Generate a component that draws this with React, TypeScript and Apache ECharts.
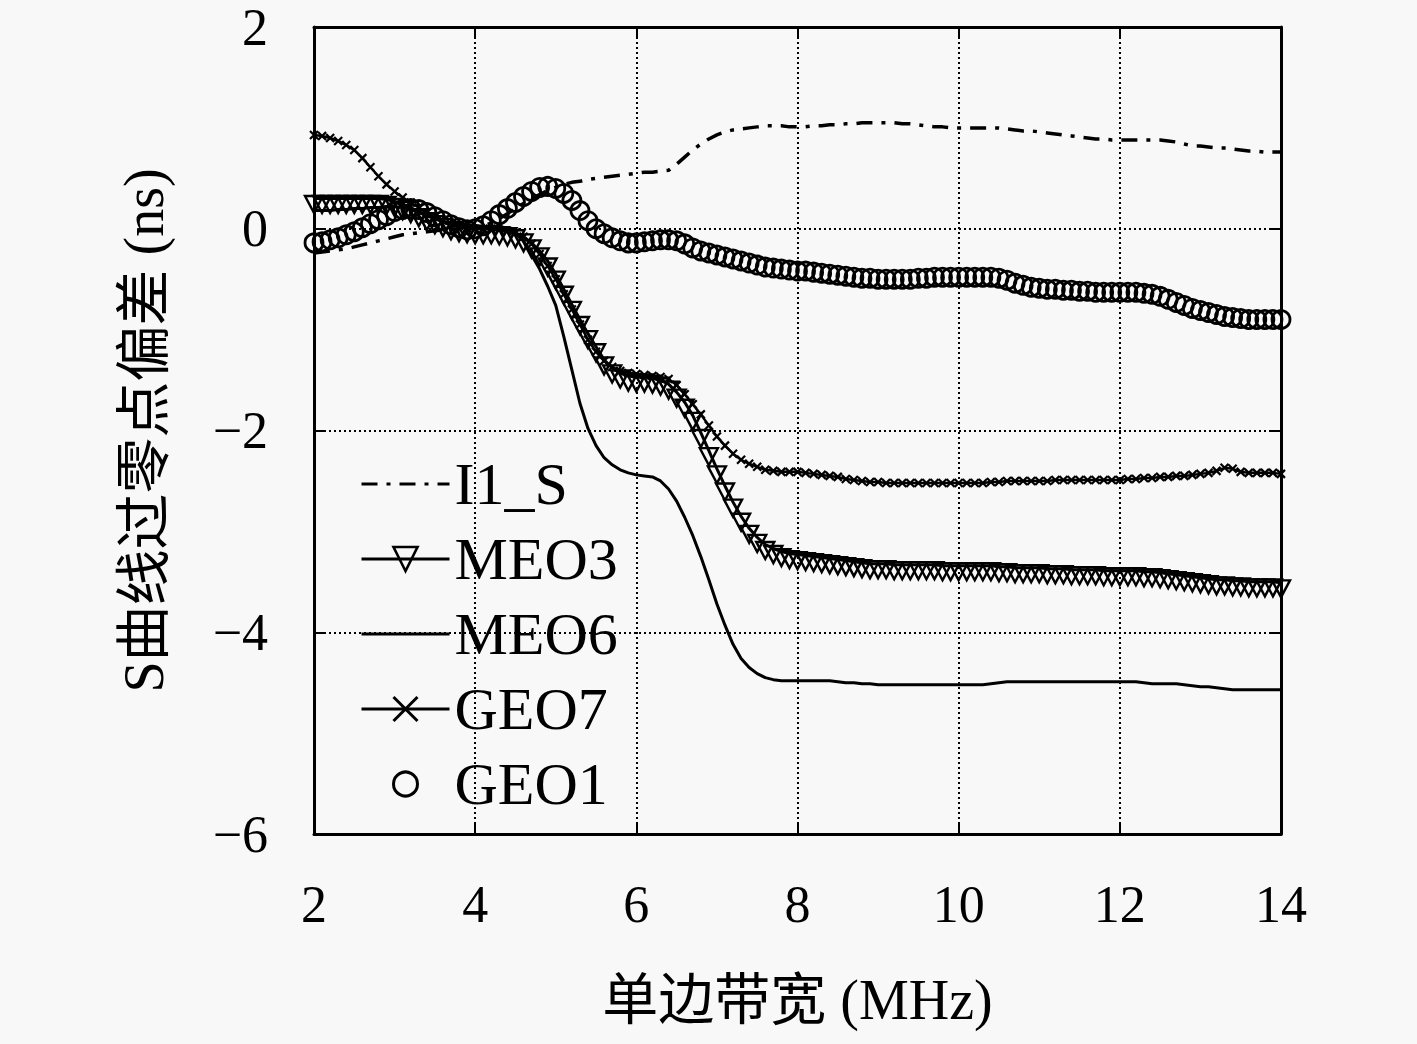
import React, { useEffect, useRef } from "react";
import * as echarts from "echarts";

// x sampling grid (MHz), 2.0 .. 14.0 in 0.1 steps
const bandwidth: number[] = Array.from({ length: 121 }, (_, i) => +(2 + i * 0.1).toFixed(1));

const xTicks = { min: 2, max: 14, interval: 2 };
const yTicks = { min: -6, max: 2, interval: 2 };

const seriesNames = ["I1_S", "MEO3", "MEO6", "GEO7", "GEO1"];

const i1s: number[] = [
  -0.24, -0.23, -0.22, -0.21, -0.2, -0.18, -0.16, -0.14, -0.12, -0.1,
  -0.08, -0.06, -0.05, -0.04, -0.03, -0.02, -0.01, -0.01, 0.0, 0.0,
  0.0, 0.02, 0.06, 0.1, 0.15, 0.2, 0.25, 0.3, 0.34, 0.38,
  0.41, 0.44, 0.46, 0.47, 0.49, 0.5, 0.51, 0.52, 0.53, 0.54,
  0.55, 0.56, 0.56, 0.57, 0.58, 0.64, 0.71, 0.78, 0.84, 0.89,
  0.93, 0.96, 0.98, 0.99, 1.0, 1.01, 1.02, 1.02, 1.02, 1.01,
  1.01, 1.01, 1.02, 1.02, 1.03, 1.03, 1.04, 1.04, 1.05, 1.05,
  1.05, 1.05, 1.05, 1.04, 1.04, 1.03, 1.02, 1.01, 1.01, 1.0,
  1.0, 1.0, 1.0, 1.0, 1.0, 1.0, 0.99, 0.98, 0.97, 0.97,
  0.96, 0.95, 0.94, 0.93, 0.92, 0.91, 0.9, 0.89, 0.89, 0.88,
  0.88, 0.88, 0.88, 0.88, 0.88, 0.88, 0.87, 0.86, 0.84, 0.82,
  0.82, 0.81, 0.8, 0.8, 0.79, 0.78, 0.77, 0.77, 0.76, 0.76,
  0.76,
];

const meo3: number[] = [
  0.3, 0.3, 0.3, 0.3, 0.3, 0.3, 0.3, 0.3, 0.3, 0.29,
  0.27, 0.24, 0.21, 0.17, 0.13, 0.1, 0.07, 0.04, 0.02, 0.01,
  0.0, 0.0, 0.0, -0.01, -0.02, -0.04, -0.08, -0.14, -0.22, -0.32,
  -0.45, -0.6, -0.75, -0.9, -1.04, -1.17, -1.3, -1.38, -1.43, -1.46,
  -1.47, -1.47, -1.48, -1.5, -1.54, -1.62, -1.72, -1.85, -2.02, -2.2,
  -2.38, -2.55, -2.71, -2.85, -2.97, -3.06, -3.13, -3.17, -3.2, -3.22,
  -3.23, -3.24, -3.25, -3.26, -3.27, -3.28, -3.29, -3.3, -3.31, -3.32,
  -3.32, -3.32, -3.33, -3.33, -3.33, -3.33, -3.33, -3.33, -3.34, -3.34,
  -3.34, -3.34, -3.34, -3.34, -3.34, -3.35, -3.35, -3.36, -3.36, -3.36,
  -3.36, -3.37, -3.37, -3.37, -3.38, -3.38, -3.38, -3.38, -3.39, -3.39,
  -3.39, -3.39, -3.39, -3.4, -3.4, -3.41, -3.42, -3.43, -3.44, -3.45,
  -3.46, -3.47, -3.48, -3.48, -3.49, -3.49, -3.5, -3.5, -3.5, -3.5,
  -3.51,
];

const meo6: number[] = [
  0.18, 0.18, 0.18, 0.19, 0.19, 0.2, 0.2, 0.21, 0.21, 0.22,
  0.22, 0.21, 0.19, 0.16, 0.13, 0.1, 0.07, 0.04, 0.02, 0.01,
  0.0, 0.0, 0.0, -0.01, -0.03, -0.05, -0.12, -0.26, -0.4, -0.57,
  -0.76, -1.07, -1.4, -1.73, -1.98, -2.15, -2.27, -2.34, -2.39, -2.42,
  -2.44, -2.45, -2.46, -2.5, -2.58, -2.7, -2.86, -3.04, -3.25, -3.48,
  -3.72, -3.93, -4.12, -4.26, -4.35, -4.41, -4.45, -4.47, -4.48, -4.48,
  -4.48, -4.48, -4.48, -4.48, -4.48, -4.49, -4.5, -4.5, -4.51, -4.51,
  -4.52, -4.52, -4.52, -4.52, -4.52, -4.52, -4.52, -4.52, -4.52, -4.52,
  -4.52, -4.52, -4.52, -4.52, -4.51, -4.5, -4.49, -4.49, -4.49, -4.49,
  -4.49, -4.49, -4.49, -4.49, -4.49, -4.49, -4.49, -4.49, -4.49, -4.49,
  -4.49, -4.49, -4.49, -4.5, -4.51, -4.51, -4.51, -4.51, -4.52, -4.53,
  -4.54, -4.54, -4.55, -4.56, -4.57, -4.57, -4.57, -4.57, -4.57, -4.57,
  -4.57,
];

const geo7: number[] = [
  0.93, 0.92, 0.9, 0.87, 0.83, 0.78, 0.7, 0.61, 0.52, 0.44,
  0.37, 0.31, 0.26, 0.21, 0.16, 0.12, 0.08, 0.05, 0.03, 0.01,
  0.0, 0.0, 0.0, -0.01, -0.02, -0.04, -0.08, -0.15, -0.25, -0.37,
  -0.5, -0.65, -0.8, -0.95, -1.1, -1.22, -1.31, -1.37, -1.41, -1.43,
  -1.44, -1.45, -1.46, -1.47, -1.49, -1.55, -1.64, -1.74, -1.84, -1.95,
  -2.06, -2.15, -2.23, -2.29, -2.33, -2.36, -2.39, -2.4, -2.41, -2.41,
  -2.41, -2.42, -2.43, -2.44, -2.45, -2.46, -2.48, -2.49, -2.5, -2.51,
  -2.51, -2.52, -2.52, -2.52, -2.52, -2.52, -2.52, -2.52, -2.52, -2.52,
  -2.52, -2.52, -2.52, -2.52, -2.51, -2.51, -2.5, -2.5, -2.5, -2.5,
  -2.5, -2.5, -2.49, -2.49, -2.49, -2.49, -2.49, -2.49, -2.49, -2.49,
  -2.49, -2.48, -2.48, -2.47, -2.47, -2.46, -2.46, -2.45, -2.45, -2.44,
  -2.43, -2.42, -2.4, -2.37, -2.38, -2.41, -2.42, -2.42, -2.42, -2.42,
  -2.43,
];

const geo1: number[] = [
  -0.14, -0.13, -0.11, -0.09, -0.06, -0.03, 0.01, 0.05, 0.09, 0.13,
  0.17, 0.19, 0.2, 0.19, 0.16, 0.12, 0.08, 0.04, 0.01, -0.01,
  0.0, 0.03, 0.08, 0.14, 0.2, 0.26, 0.32, 0.37, 0.41, 0.42,
  0.4, 0.35, 0.28, 0.18, 0.08, 0.0, -0.05, -0.09, -0.12, -0.14,
  -0.14, -0.13, -0.12, -0.11, -0.11, -0.12, -0.15, -0.19, -0.22, -0.24,
  -0.26, -0.28, -0.3, -0.32, -0.34, -0.36, -0.38, -0.39, -0.4, -0.41,
  -0.42, -0.42, -0.43, -0.44, -0.45, -0.46, -0.47, -0.48, -0.49, -0.49,
  -0.5, -0.5, -0.5, -0.5, -0.5, -0.49, -0.49, -0.48, -0.48, -0.48,
  -0.48, -0.48, -0.48, -0.48, -0.48, -0.49, -0.51, -0.54, -0.56, -0.58,
  -0.59, -0.6, -0.6, -0.61, -0.61, -0.62, -0.62, -0.63, -0.63, -0.63,
  -0.63, -0.63, -0.63, -0.64, -0.65, -0.67, -0.7, -0.73, -0.76, -0.79,
  -0.81, -0.83, -0.85, -0.87, -0.88, -0.89, -0.9, -0.9, -0.9, -0.9,
  -0.9,
];

const pairs = (ys: number[]) => bandwidth.map((x, i) => [x, ys[i]]);

const SERIF = "'Liberation Serif', 'Noto Sans CJK SC', serif";
const INK = "#000";
const DASHDOT = [16, 9, 4, 9];

export default function App() {
  const ref = useRef<HTMLDivElement>(null);

  useEffect(() => {
    if (!ref.current) return;
    const chart = echarts.init(ref.current, null, { renderer: "svg" });
    const minus = (v: number) => (v < 0 ? "\u2212" + Math.abs(v) : String(v));
    const hiddenAxisCommon = {
      axisLabel: { show: false },
      splitLine: { show: false },
      axisLine: { show: true, onZero: false, lineStyle: { color: INK, width: 3 } },
      axisTick: { show: true, inside: true, length: 10, lineStyle: { color: INK, width: 2 } },
    };
    const grid = { show: true, lineStyle: { color: INK, width: 2, type: [2, 3] } };
    chart.setOption({
      animation: false,
      backgroundColor: "#f8f8f8",
      grid: { left: 314, right: 136, top: 27, bottom: 210, containLabel: false },
      legend: {
        orient: "vertical",
        left: 355,
        top: 449,
        itemWidth: 88,
        itemHeight: 30,
        itemGap: 15,
        lineStyle: { width: 3 },
        itemStyle: { borderWidth: 2.6 },
        textStyle: { fontFamily: SERIF, fontSize: 60, color: INK },
        data: [
          { name: "I1_S", itemStyle: { opacity: 0 }, lineStyle: { width: 3, type: DASHDOT } },
          { name: "MEO3", lineStyle: { width: 3 } },
          { name: "MEO6", itemStyle: { opacity: 0 }, lineStyle: { width: 3 } },
          { name: "GEO7", lineStyle: { width: 3 }, itemStyle: { borderWidth: 3 } },
          { name: "GEO1", lineStyle: { width: 0, opacity: 0 }, itemStyle: { borderWidth: 3 } },
        ],
      },
      xAxis: [
        {
          type: "value",
          min: xTicks.min,
          max: xTicks.max,
          interval: xTicks.interval,
          name: "单边带宽 (MHz)",
          nameLocation: "middle",
          nameGap: 138,
          nameTextStyle: { fontFamily: SERIF, fontSize: 56, color: INK },
          axisLine: { show: true, onZero: false, lineStyle: { color: INK, width: 3 } },
          axisTick: { show: true, inside: true, length: 10, lineStyle: { color: INK, width: 2 } },
          axisLabel: { margin: 44, fontFamily: SERIF, fontSize: 52, color: INK },
          splitLine: grid,
        },
        {
          type: "value",
          position: "top",
          min: xTicks.min,
          max: xTicks.max,
          interval: xTicks.interval,
          ...hiddenAxisCommon,
        },
      ],
      yAxis: [
        {
          type: "value",
          min: yTicks.min,
          max: yTicks.max,
          interval: yTicks.interval,
          name: "S曲线过零点偏差 (ns)",
          nameLocation: "middle",
          nameGap: 142,
          nameTextStyle: { fontFamily: SERIF, fontSize: 56, color: INK },
          axisLine: { show: true, onZero: false, lineStyle: { color: INK, width: 3 } },
          axisTick: { show: true, inside: true, length: 10, lineStyle: { color: INK, width: 2 } },
          axisLabel: { margin: 46, fontFamily: SERIF, fontSize: 52, color: INK, formatter: minus },
          splitLine: grid,
        },
        {
          type: "value",
          position: "right",
          min: yTicks.min,
          max: yTicks.max,
          interval: yTicks.interval,
          ...hiddenAxisCommon,
        },
      ],
      series: [
        {
          name: seriesNames[0],
          type: "line",
          data: pairs(i1s),
          symbol: "none",
          clip: false,
          lineStyle: { color: INK, width: 3.5, type: DASHDOT },
          itemStyle: { color: INK },
          z: 2,
        },
        {
          name: seriesNames[1],
          type: "line",
          data: pairs(meo3),
          symbol: "triangle",
          symbolRotate: 180,
          symbolSize: [18, 17],
          symbolOffset: [0, 6],
          clip: false,
          lineStyle: { color: INK, width: 3 },
          itemStyle: { color: "rgba(0,0,0,0)", borderColor: INK, borderWidth: 2.4 },
          z: 3,
        },
        {
          name: seriesNames[2],
          type: "line",
          data: pairs(meo6),
          symbol: "none",
          clip: false,
          lineStyle: { color: INK, width: 3 },
          itemStyle: { color: INK },
          z: 2,
        },
        {
          name: seriesNames[3],
          type: "line",
          data: pairs(geo7),
          symbol: "path://M0,0L10,10M10,0L0,10",
          symbolSize: 8,
          clip: false,
          lineStyle: { color: INK, width: 2.5 },
          itemStyle: { color: "rgba(0,0,0,0)", borderColor: INK, borderWidth: 2.2 },
          z: 3,
        },
        {
          name: seriesNames[4],
          type: "line",
          data: pairs(geo1),
          symbol: "circle",
          symbolSize: 18,
          clip: false,
          lineStyle: { color: INK, width: 0, opacity: 0 },
          itemStyle: { color: "rgba(0,0,0,0)", borderColor: INK, borderWidth: 2.8 },
          z: 4,
        },
      ],
    });
    return () => chart.dispose();
  }, []);

  return (
    <div
      ref={ref}
      style={{ position: "absolute", left: 0, top: 0, width: 1417, height: 1044, background: "#f8f8f8" }}
    />
  );
}
